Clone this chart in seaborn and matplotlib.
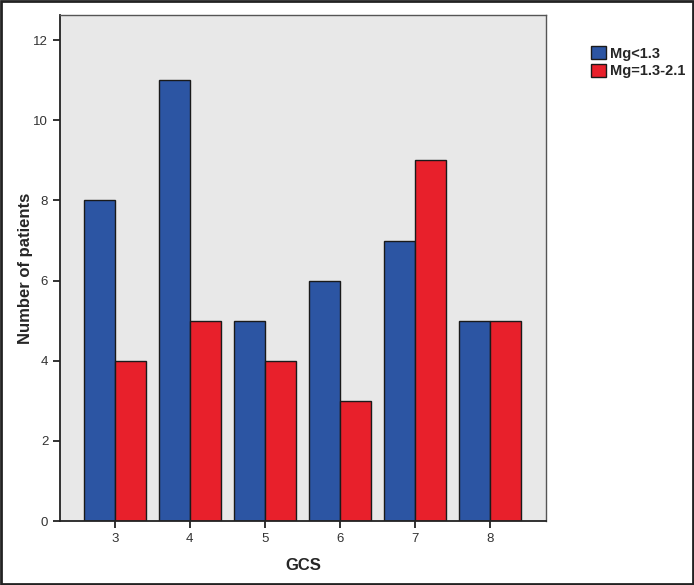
import matplotlib
matplotlib.use("Agg")
import matplotlib.pyplot as plt
import seaborn as sns
import pandas as pd
from matplotlib.patches import Rectangle

gcs = ["3", "4", "5", "6", "7", "8"]
mg_low = [8, 11, 5, 6, 7, 5]
mg_norm = [4, 5, 4, 3, 9, 5]
groups = ["Mg<1.3", "Mg=1.3-2.1"]
colors = ["#2c55a3", "#e8202b"]

df = pd.DataFrame({
    "GCS": gcs * 2,
    "count": mg_low + mg_norm,
    "group": [groups[0]] * len(gcs) + [groups[1]] * len(gcs),
})

sns.set_style("white")
plt.rcParams['font.family'] = ['Liberation Sans', 'DejaVu Sans']

fig = plt.figure(figsize=(6.94, 5.85), dpi=100)
ax = fig.add_axes([60/694, 1-521/585, 486/694, 506/585])
sns.barplot(data=df, x="GCS", y="count", hue="group", palette=colors,
            width=0.83, edgecolor="#1a1a1a", linewidth=1.0, ax=ax,
            saturation=1)
ax.set_facecolor("#e8e8e8")
ax.set_xlim(-0.73, 5.75)
ax.set_ylim(0, 12.63)
ax.set_yticks([0, 2, 4, 6, 8, 10, 12])
ax.tick_params(axis="both", direction="out", length=5, width=1.3, color="#222222",
               labelsize=9.5, labelcolor="#333333", bottom=True, left=True)
for s in ["left", "bottom"]:
    ax.spines[s].set_color("#222222")
    ax.spines[s].set_linewidth(1.3)
for s in ["top", "right"]:
    ax.spines[s].set_color("#555555")
    ax.spines[s].set_linewidth(1.0)
ax.set_xlabel("GCS", fontsize=12, fontweight="bold")
ax.set_ylabel("Number of patients", fontsize=12, fontweight="bold")
ax.yaxis.set_label_coords(-0.072, 0.5)
ax.xaxis.set_label_coords(0.5, -0.087)
ax.xaxis.label.set_va("center")
ax.yaxis.label.set_va("center")
ax.legend(loc="upper left", bbox_to_anchor=((578 - 60)/486, 1 - 18/506),
          frameon=False, handlelength=1.0, handleheight=1.0,
          handletextpad=0.3, labelspacing=0.2, prop={"weight": "bold", "size": 10.5})
fig.patches.append(Rectangle((0.001, 0.001), 0.997, 0.997, transform=fig.transFigure,
                             fill=False, edgecolor="#222222", linewidth=2))
fig.savefig("out.png", dpi=100)
